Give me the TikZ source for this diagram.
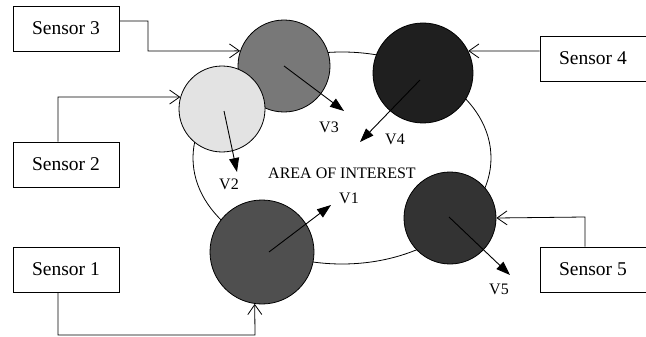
\documentclass[tikz,border=0pt]{standalone}
\usepackage{fontspec}
\setmainfont{Liberation Serif}
\usetikzlibrary{arrows.meta}
\begin{document}
\begin{tikzpicture}[x=1pt,y=-1pt,
  sensorbox/.style={draw,line width=0.8pt,minimum width=106pt,minimum height=45pt,
    inner sep=0pt,font=\fontsize{19.5}{22}\selectfont},
  craft/.style={circle,draw,line width=0.8pt,inner sep=0pt},
  link/.style={line width=0.8pt,-{Straight Barb[length=10pt,width=14pt,line width=0.8pt]}},
  motion/.style={line width=0.9pt,-{Triangle[length=14pt,width=10pt]}},
  lbl/.style={font=\fontsize{16}{18}\selectfont,inner sep=0pt}]
\useasboundingbox (0,0) rectangle (646,337);
\fill[white] (0,0) rectangle (646,337);

% area of interest
\draw[line width=0.8pt] (342,158) ellipse [x radius=149pt, y radius=106pt];
\node[lbl] (area) at (342,173) {AREA OF INTEREST};

% vehicles
\node[craft,fill=black!53,minimum size=92pt] (c3) at (284,66) {};
\node[craft,fill=black!11,minimum size=86pt] (c2) at (222,109) {};
\node[craft,fill=black!88,minimum size=100pt] (c4) at (423,73) {};
\node[craft,fill=black!69,minimum size=104pt] (c1) at (262,252) {};
\node[craft,fill=black!80,minimum size=92pt] (c5) at (450,218) {};

% sensors
\node[sensorbox] (s3) at (66,28.5) {Sensor 3};
\node[sensorbox] (s2) at (66,164.5) {Sensor 2};
\node[sensorbox] (s1) at (66,269.5) {Sensor 1};
\node[sensorbox] (s4) at (593,58.5) {Sensor 4};
\node[sensorbox] (s5) at (593,269.5) {Sensor 5};

% sensor links
\draw[link] (s3.east |- 0,21) -- (148,21) -- (148,51) -- (c3.161);
\draw[link] (s2.north -| 58,0) -- (58,97) -- (c2.164);
\draw[link] (s4.west |- 0,51) -- (c4.26);
\draw[link] (s1.south -| 58,0) -- (58,335) -- (255,335) -- (c1.262);
\draw[link] (s5.north -| 585,0) -- (585,217) -- (c5.east);

% velocity vectors
\coordinate (v1tip) at (331,205);
\coordinate (v2tip) at (237,172);
\coordinate (v3tip) at (344,111);
\coordinate (v4tip) at (360,142);
\coordinate (v5tip) at (510,275);
\draw[motion] ([shift={(7pt,0pt)}]c1.center) -- (v1tip);
\draw[motion] ([shift={(2pt,-2pt)}]c2.center) -- (v2tip);
\draw[motion] (c3.center) -- (v3tip);
\draw[motion] ([shift={(-3pt,-7pt)}]c4.center) -- (v4tip);
\draw[motion] ([shift={(-1pt,1pt)}]c5.center) -- (v5tip);

\node[lbl] (l1) at (349,198) {V1};
\node[lbl] (l2) at (229,184) {V2};
\node[lbl] (l3) at (329,127) {V3};
\node[lbl] (l4) at (395,139) {V4};
\node[lbl] (l5) at (499,289) {V5};
\end{tikzpicture}
\end{document}
